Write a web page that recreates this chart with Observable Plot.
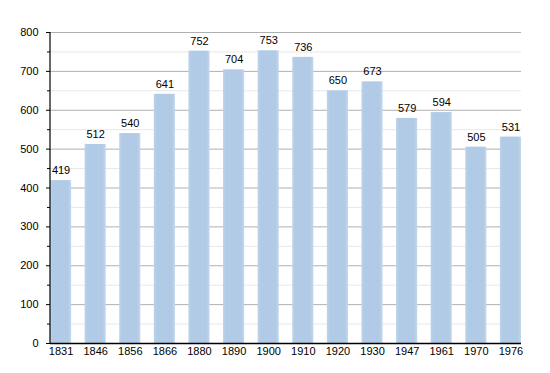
<!DOCTYPE html>
<html><head><meta charset="utf-8">
<script src="https://cdn.jsdelivr.net/npm/d3@7"></script>
<script src="https://cdn.jsdelivr.net/npm/@observablehq/plot@0.6"></script>
<style>body{margin:0;background:#fff;font-family:"Liberation Sans",Arial,sans-serif}</style>
</head><body><div id="chart"></div>
<script>
const years = ["1831","1846","1856","1866","1880","1890","1900","1910","1920","1930","1947","1961","1970","1976"];
const population = [419,512,540,641,752,704,753,736,650,673,579,594,505,531];
const majorTicks = [0,100,200,300,400,500,600,700,800];
const minorTicks = [50,150,250,350,450,550,650,750];

const data = years.map((y,i)=>({year:y, pop:population[i]}));

const chart = Plot.plot({
  width: 550, height: 373,
  marginLeft: 50, marginRight: 29, marginTop: 32, marginBottom: 30,
  style: {fontFamily: '"Liberation Sans", Arial, sans-serif', fontSize: "11px", color: "#000", background: "#fff"},
  x: {domain: years, paddingInner: 0.39, paddingOuter: 0, round: false, label: null},
  y: {domain: [0,800], label: null},
  marks: [
    () => {
      const s = d3.create("svg:defs");
      const g = s.append("linearGradient").attr("id","barGrad").attr("x1","0").attr("x2","1").attr("y1","0").attr("y2","0");
      g.append("stop").attr("offset","0%").attr("stop-color","#bcd3ea");
      g.append("stop").attr("offset","15%").attr("stop-color","#b1cae5");
      g.append("stop").attr("offset","85%").attr("stop-color","#b1cae5");
      g.append("stop").attr("offset","100%").attr("stop-color","#c4d8ed");
      return s.node();
    },
    Plot.ruleY(minorTicks, {stroke: "#e8e8e8", strokeWidth: 1}),
    Plot.ruleY(majorTicks.filter(d=>d>0), {stroke: "#b0b0b0", strokeWidth: 1}),
    Plot.barY(data, {x: "year", y: "pop", fill: "url(#barGrad)"}),
    Plot.text(data, {x: "year", y: "pop", text: d => String(d.pop), dy: -10, fontSize: 11, fill: "#000"}),
    Plot.axisY({ticks: majorTicks, tickSize: 4, tickPadding: 8, label: null, stroke: "#000"}),
    Plot.axisY({ticks: minorTicks, tickSize: 3, tickFormat: () => "", label: null, stroke: "#000"}),
    Plot.axisX({tickSize: 0, tickPadding: 4, label: null}),
    Plot.ruleY([0], {stroke: "#000", strokeWidth: 1.5}),
    () => d3.create("svg:line").attr("x1",50).attr("x2",50).attr("y1",32).attr("y2",343).attr("stroke","#000").attr("stroke-width",1.2).node()
  ]
});
document.getElementById("chart").appendChild(chart);
</script></body></html>
